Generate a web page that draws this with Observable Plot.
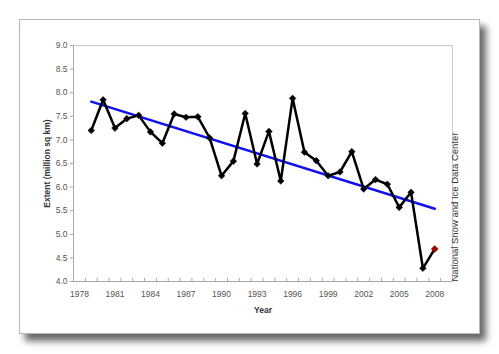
<!DOCTYPE html>
<html>
<head>
<meta charset="utf-8">
<script src="https://cdn.jsdelivr.net/npm/d3@7"></script>
<script src="https://cdn.jsdelivr.net/npm/@observablehq/plot@0.6"></script>
<style>
  html, body { margin: 0; padding: 0; background: #fff; }
  body { width: 499px; height: 354px; position: relative; overflow: hidden; font-family: "Liberation Sans", Arial, sans-serif; }
  #frame { position: absolute; left: 19px; top: 19px; width: 459px; height: 313px; border: 1px solid #b8b8b8; background: #fff; box-shadow: 6px 7px 7px rgba(0,0,0,0.6); }
  #chart { position: absolute; left: 0; top: 0; }
  #chart svg { background: transparent !important; }
</style>
</head>
<body>
<div id="frame"></div>
<div id="chart"></div>
<script>
const years = [1979,1980,1981,1982,1983,1984,1985,1986,1987,1988,1989,1990,1991,1992,1993,1994,1995,1996,1997,1998,1999,2000,2001,2002,2003,2004,2005,2006,2007,2008];
const extent = [7.20,7.85,7.25,7.45,7.52,7.17,6.93,7.55,7.48,7.49,7.04,6.24,6.55,7.56,6.49,7.18,6.13,7.88,6.74,6.56,6.24,6.32,6.75,5.96,6.16,6.06,5.57,5.89,4.28,4.69];
const trendYears = [1979, 2008];
const trendValues = [7.81, 5.54];
const xTickLabels = [1978,1981,1984,1987,1990,1993,1996,1999,2002,2005,2008];
const yTicks = [4.0,4.5,5.0,5.5,6.0,6.5,7.0,7.5,8.0,8.5,9.0];
const yTitle = "Extent (million sq km)";
const xTitle = "Year";
const source = "National Snow and Ice Data Center";

const data = years.map((y, i) => ({year: y, extent: extent[i]}));
const trend = trendYears.map((y, i) => ({year: y, extent: trendValues[i]}));
const lastYear = years[years.length - 1];
const halfYears = d3.range(1977.5, 2009.6, 1);

const chart = Plot.plot({
  width: 499,
  height: 354,
  marginLeft: 73,
  marginRight: 47,
  marginTop: 45,
  marginBottom: 73,
  style: {fontFamily: "'Liberation Sans', Arial, sans-serif", background: "transparent"},
  x: {domain: [1977.5, 2009.5]},
  y: {domain: [4, 9]},
  marks: [
    Plot.frame({stroke: "#c8c8c8"}),
    Plot.ruleX([1977.5], {stroke: "#a8a8a8"}),
    Plot.ruleY([4], {stroke: "#a8a8a8"}),
    Plot.ruleX(halfYears, {x: d => d, y1: 4, y2: 4.065, stroke: "#a8a8a8"}),
    Plot.axisY({ticks: yTicks, tickFormat: d3.format(".1f"), tickSize: 3, tickPadding: 3, stroke: "#a8a8a8", fill: "#555", fontSize: 8.5, label: null}),
    Plot.axisY({ticks: [], label: yTitle, labelAnchor: "center", labelArrow: "none", labelOffset: 30, fontWeight: "bold", fontSize: 8.5, fill: "#333"}),
    Plot.axisX({ticks: xTickLabels, tickFormat: d => String(d), tickSize: 0, tickPadding: 9, fill: "#555", fontSize: 8.5, label: null}),
    Plot.axisX({ticks: [], label: xTitle, labelAnchor: "center", labelArrow: "none", labelOffset: 31, fontWeight: "bold", fontSize: 8.5, fill: "#333"}),
    Plot.text([source], {frameAnchor: "bottom-right", dx: 5, textAnchor: "start", rotate: -90, fontSize: 9.5, fill: "#333"}),
    Plot.line(trend, {x: "year", y: "extent", stroke: "#1010f0", strokeWidth: 2.5}),
    Plot.line(data, {x: "year", y: "extent", stroke: "#000", strokeWidth: 2.5}),
    Plot.dot(data.filter(d => d.year !== lastYear), {x: "year", y: "extent", symbol: "diamond2", r: 3, fill: "#000", stroke: "#000", strokeWidth: 0.5}),
    Plot.dot(data.filter(d => d.year === lastYear), {x: "year", y: "extent", symbol: "diamond2", r: 3.2, fill: "#a00000", stroke: "#a00000", strokeWidth: 0.5})
  ]
});
document.getElementById("chart").appendChild(chart);
</script>
</body>
</html>
